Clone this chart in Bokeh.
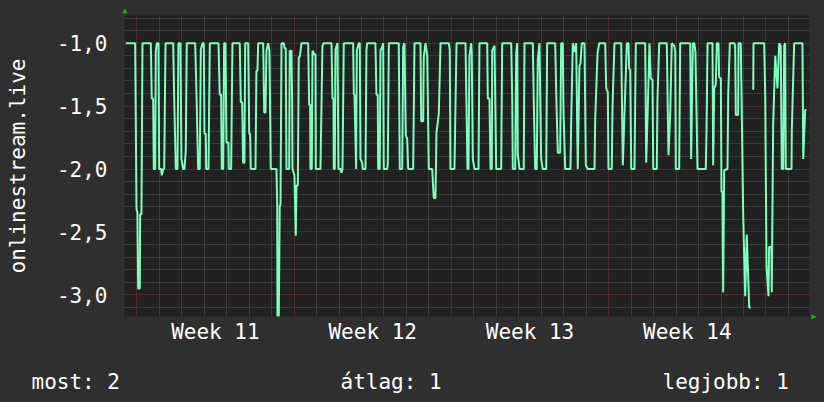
from bokeh.plotting import figure
from bokeh.layouts import column
from bokeh.models import Grid, FixedTicker, Range1d, LinearAxis
from bokeh.core.properties import value
from bokeh.embed import file_html
from bokeh.resources import INLINE

NAN = float("nan")

# hours since start of Week 11, value (chunk by chunk)
h1 = [-11.7,-1.7,-0.3,0.7,1.5,3.2,3.6,5.0,6.1,15.0,16.0,17.5,18.2,19.7,20.3,21.4,23.2,23.9,26.1,26.7,28.2,29.3,30.7,38.9,39.9,41.7,43.5,44.5,46.7,47.7,49.6,50.9,52.3,53.4,62.4,63.8,65.6,67.3,68.4,70.2,71.6,72.3,73.7,74.1,76.6,78.0,87.3,88.6,90.1,90.8,92.3,93.3,94.7,95.8,97.9,98.3,100.8,102.2,109.4]
v1 = [-1.0,-1.0,-2.32,-2.34,-2.95,-2.95,-2.36,-2.36,-1.0,-1.0,-1.44,-1.44,-2.0,-2.0,-1.07,-1.0,-1.0,-2.0,-2.0,-2.05,-2.0,-2.0,-1.0,-1.0,-1.41,-2.0,-2.0,-1.0,-1.0,-1.92,-2.0,-2.0,-1.86,-1.0,-1.0,-1.41,-2.0,-2.0,-1.05,-1.0,-1.0,-1.72,-1.72,-2.0,-2.0,-1.0,-1.0,-1.41,-1.41,-2.0,-2.0,-1.0,-1.0,-1.79,-1.79,-2.0,-2.0,-1.0,-1.0]

h2 = [110.0,111.1,112.6,113.6,115.0,115.8,119.0,120.1,121.1,121.8,126.8,127.8,128.9,129.7,135.0,136.1,137.5,138.5,140.3,141.7,143.1,149.2,150.0,150.3,151.7,152.7,153.5,154.6,157.0,157.8,159.1,159.9,162.8,163.4,165.2,166.0,166.3,168.4,169.8,170.6,172.0,173.0,174.1,175.9,183.1,184.1,185.2,185.5,186.9,187.7,189.8,190.9,191.2,196.2,198.3,199.7,208.0,209.0,210.1,210.4,211.5,212.2,214.4,215.4,217.9,218.6,219.7,221.1,231.1]
v2 = [-1.0,-1.47,-1.47,-1.95,-1.95,-1.0,-1.0,-1.72,-1.72,-2.0,-2.0,-1.22,-1.22,-1.0,-1.0,-1.55,-1.55,-1.06,-1.0,-1.06,-2.0,-2.0,-2.29,-3.17,-3.17,-2.29,-2.29,-1.0,-1.0,-1.04,-1.04,-2.0,-2.0,-1.06,-1.06,-1.49,-2.0,-2.05,-2.53,-2.13,-2.13,-1.11,-1.11,-1.0,-1.0,-1.49,-1.49,-2.0,-2.0,-1.06,-1.09,-1.09,-2.0,-2.0,-1.02,-1.0,-1.0,-1.44,-1.44,-2.0,-2.0,-1.05,-1.0,-2.0,-2.0,-2.03,-2.0,-1.0,-1.0]

h3 = [231.8,232.5,234.3,235.0,237.1,238.2,238.9,240.7,241.4,244.3,245.3,246.1,254.9,256.0,257.4,257.8,259.5,260.3,262.1,263.2,263.8,267.4,268.1,269.2,279.8,280.9,283.5,284.5,285.9,287.3,288.8,289.9,295.2,296.6,303.0,303.8,305.9,306.5,308.4,310.2,311.9,315.5,317.2,319.0,320.1,322.6,324.4,333.2,334.3,335.0,339.3,341.5,351.1,352.1]
v3 = [-1.41,-1.41,-2.0,-1.06,-1.0,-1.0,-1.92,-1.95,-2.0,-2.0,-1.05,-1.0,-1.0,-1.41,-1.41,-2.0,-2.0,-1.06,-1.03,-1.0,-2.0,-2.0,-1.96,-1.0,-1.0,-2.0,-2.0,-1.03,-1.0,-1.73,-1.76,-2.0,-2.0,-1.0,-1.0,-1.62,-1.62,-1.11,-1.0,-1.1,-2.0,-2.0,-2.23,-2.23,-1.71,-1.56,-1.0,-1.0,-1.05,-2.0,-2.0,-1.0,-1.0,-1.47]

h4 = [353.2,354.3,355.3,357.2,357.8,358.9,360.7,365.0,366.0,374.3,374.9,376.7,377.8,379.2,379.6,382.1,383.9,389.2,390.3,399.9,401.0,401.6,404.2,405.2,406.3,406.9,408.8,413.3,414.1,423.0,424.0,425.5,427.2,428.3,430.1,431.9,433.6,437.3,438.3,446.9,448.3,449.7,452.2,453.3,455.0,455.8,457.6,463.2,464.0,465.7,467.5,469.3,471.0,472.8]
v4 = [-2.0,-2.0,-1.1,-1.0,-1.09,-1.92,-2.0,-2.0,-1.0,-1.0,-1.44,-1.44,-2.0,-2.0,-1.06,-1.02,-2.0,-2.0,-1.0,-1.0,-1.44,-2.0,-2.0,-1.08,-1.0,-1.88,-2.0,-2.0,-1.0,-1.0,-1.45,-2.0,-2.0,-1.13,-1.0,-1.92,-2.0,-2.0,-1.0,-1.0,-1.49,-1.87,-1.87,-1.0,-1.0,-1.55,-2.0,-2.0,-1.61,-1.0,-1.07,-1.0,-2.0,-1.18]

h5 = [473.9,475.3,478.2,479.6,481.7,488.9,489.6,492.1,493.9,500.3,501.4,503.1,503.8,507.3,508.1,510.2,517.4,519.1,520.9,523.4,525.2,525.9,527.0,528.1,531.6,533.0,543.0,544.1,545.8,547.6,549.0,550.8,551.6,555.4,556.1,558.0,566.1,567.2,567.9,569.7,571.4,574.0,575.1,575.7,579.3,580.4,591.1,592.1,593.9]
v5 = [-1.16,-1.0,-1.0,-1.97,-2.0,-2.0,-1.61,-1.08,-1.0,-1.0,-1.36,-1.39,-2.0,-2.0,-1.51,-1.0,-1.0,-1.97,-1.56,-1.0,-1.0,-1.2,-1.21,-2.0,-2.0,-1.0,-1.0,-1.95,-1.51,-1.0,-1.28,-1.29,-2.0,-2.0,-1.45,-1.0,-1.0,-1.56,-1.89,-1.57,-1.0,-1.02,-1.07,-2.0,-2.0,-1.0,-1.0,-1.92,-1.0]

h6 = [595.4,596.7,598.9,607.7,608.5,609.6,614.9,615.6,616.7,618.4,619.5,621.3,622.0,623.8,624.5,625.6,626.3,627.4,630.9,631.7,633.4,638.1,639.1,639.8,642.3,642.7,645.1,646.2,647.7,649.8,651.5,654.1,655.8,657.0,658.4,658.7,670.1,671.2,672.6,674.7,675.4,677.9,678.2,679.7,681.9,684.3,686.1,687.8,688.9,690.4,691.5,692.5,693.2,699.3,699.6,702.1,711.0,711.8,713.9,715.3]
v6 = [-1.0,-1.07,-2.0,-2.0,-1.71,-1.0,-1.0,-1.97,-1.36,-1.33,-1.0,-1.0,-1.27,-1.28,-2.18,-2.18,-2.98,-2.01,-2.0,-1.41,-1.0,-1.0,-1.02,-1.57,-1.57,-1.0,-1.0,-1.57,-2.37,-3.01,-2.52,-3.10,-3.10,NAN,-1.37,-1.0,-1.0,-1.41,-2.77,-3.01,-2.62,-2.62,-2.98,-1.64,-1.1,-1.36,-1.0,-1.02,-2.0,-2.0,-1.02,-1.0,-2.0,-2.0,-1.69,-1.0,-1.0,-1.92,-1.53,-1.53]

week_centers = [84, 252, 420, 588]
week_labels = ["Week 11", "Week 12", "Week 13", "Week 14"]
y_ticks = [-3.0, -2.5, -2.0, -1.5, -1.0]
y_tick_labels = ["-3,0", "-2,5", "-2,0", "-1,5", "-1,0"]
y_title = "onlinestream.live"
legend_texts = ["most: 2", "átlag: 1", "legjobb: 1"]

hours = h1 + h2 + h3 + h4 + h5 + h6
values = v1 + v2 + v3 + v4 + v5 + v6
assert len(hours) == len(values)

FONT = "DejaVu Sans Mono"
FS = "21px"
BG = "#2f2f2f"
CANVAS = "#212121"
ARROW = "#00c800"

x0, x1 = -13.1, 718.5
y0, y1 = -3.172, -0.780
xpp = (x1 - x0) / 685.0   # hours per pixel
ypp = (y1 - y0) / 301.0   # units per pixel

p = figure(width=824, height=350, output_backend="svg", toolbar_location=None,
           x_range=Range1d(x0, x1), y_range=Range1d(y0, y1),
           min_border_left=124, min_border_right=15, min_border_top=15, min_border_bottom=34)
p.frame_align = False
p.background_fill_color = CANVAS
p.border_fill_color = BG
p.outline_line_color = None
p.xgrid.visible = False
p.ygrid.visible = False

# grids: days / weeks, 0.1 / 0.5
minor_x = [24 * i for i in range(1, 30) if i % 7 != 0]
major_x = [168 * i for i in range(0, 5)]
minor_y = [round(-3.1 + 0.1 * i, 1) for i in range(24)]
minor_y = [t for t in minor_y if abs(t * 2 - round(t * 2)) > 1e-6]
for dim, ticks, col in [(0, minor_x, "#565656"), (1, minor_y, "#565656"),
                        (0, major_x, "#803535"), (1, y_ticks, "#803535")]:
    p.add_layout(Grid(dimension=dim, ticker=FixedTicker(ticks=ticks),
                      grid_line_color=col, grid_line_dash="1 1", grid_line_width=1))

# axes
p.xaxis.ticker = FixedTicker(ticks=week_centers)
p.xaxis.major_label_overrides = {c: l for c, l in zip(week_centers, week_labels)}
p.yaxis.ticker = FixedTicker(ticks=y_ticks)
p.yaxis.major_label_overrides = {t: l for t, l in zip(y_ticks, y_tick_labels)}
p.yaxis.axis_label = y_title
p.yaxis.axis_label_standoff = 24
p.yaxis.axis_label_text_font = FONT
p.yaxis.axis_label_text_font_size = FS
p.yaxis.axis_label_text_font_style = "normal"
p.yaxis.axis_label_text_color = "#ffffff"
for ax, so in [(p.xaxis, 3), (p.yaxis, 17)]:
    ax.axis_line_color = None
    ax.major_tick_line_color = None
    ax.minor_tick_line_color = None
    ax.major_tick_out = 0
    ax.major_tick_in = 0
    ax.major_label_standoff = so
    ax.major_label_text_font = FONT
    ax.major_label_text_font_size = FS
    ax.major_label_text_color = "#ffffff"

# small green axis arrows (rrdtool style)
top_arrow = LinearAxis(ticker=FixedTicker(ticks=[x0 + 0.5 * xpp]),
                       major_label_overrides={x0 + 0.5 * xpp: "▲"})
right_arrow = LinearAxis(ticker=FixedTicker(ticks=[y0 + 0.5 * ypp]),
                         major_label_overrides={y0 + 0.5 * ypp: "▶"})
for ax, so in [(top_arrow, 1), (right_arrow, 2)]:
    ax.axis_line_color = None
    ax.major_tick_line_color = None
    ax.minor_tick_line_color = None
    ax.major_tick_out = 0
    ax.major_tick_in = 0
    ax.major_label_standoff = so
    ax.major_label_text_font = FONT
    ax.major_label_text_font_size = "8px"
    ax.major_label_text_color = ARROW
p.add_layout(top_arrow, "above")
p.add_layout(right_arrow, "right")

p.line(hours, values, line_color="#7fffbf", line_width=2)

# legend strip below the chart (page pixel coordinates)
leg = figure(width=824, height=52, output_backend="svg", toolbar_location=None,
             x_range=Range1d(0, 824), y_range=Range1d(402, 350),
             x_axis_location=None, y_axis_location=None, min_border=0)
leg.frame_align = False
leg.xgrid.visible = False
leg.ygrid.visible = False
leg.background_fill_color = BG
leg.border_fill_color = BG
leg.outline_line_color = None
leg.text(x=[31, 340, 662], y=[381, 381, 381], text=legend_texts,
         text_font=value(FONT), text_font_size=FS, text_color="#ffffff",
         text_align="left", text_baseline="alphabetic")

layout = column(p, leg, spacing=0, styles={"background-color": BG})
open("out.html", "w").write(file_html(layout, INLINE))
